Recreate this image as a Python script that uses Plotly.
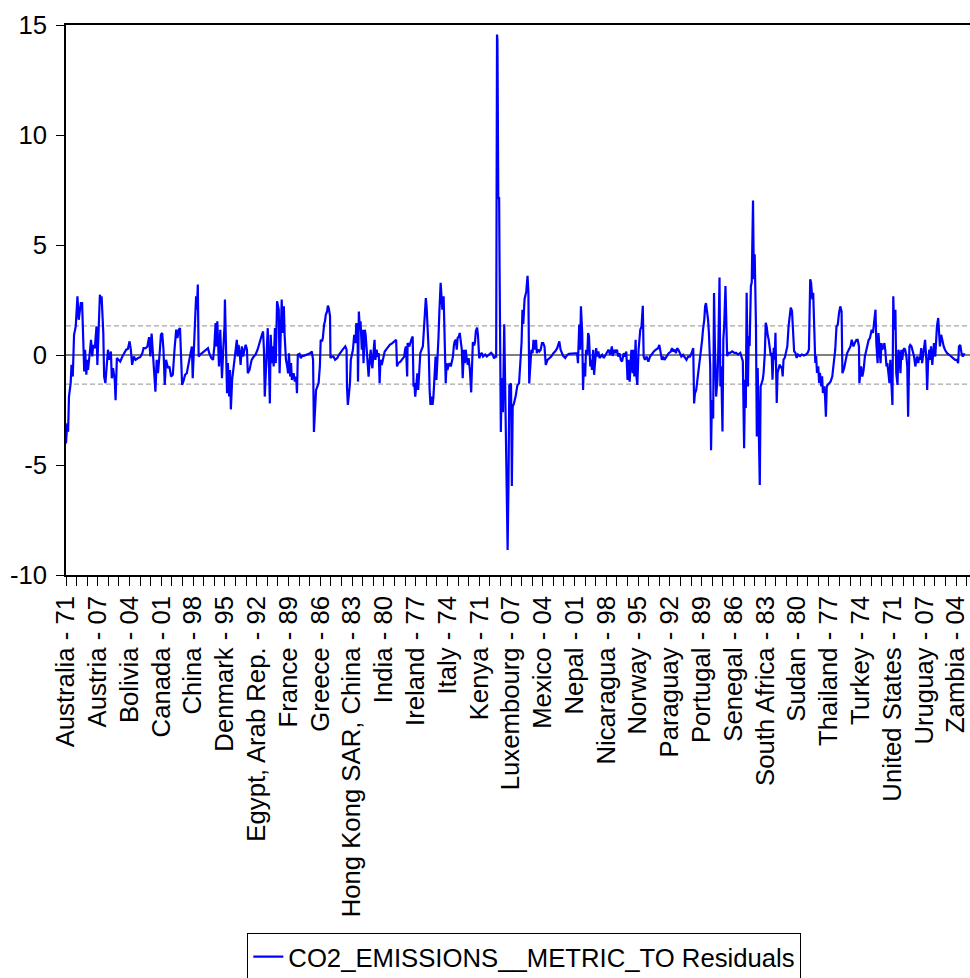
import plotly.graph_objects as go

obs = [
    0, 3, 5, 7, 11, 13, 16, 19, 23, 27, 30, 35, 38, 41, 43, 45, 48, 50, 52, 56, 59, 62, 64, 68, 72, 74, 77, 80, 82, 84,
    88, 90, 93, 95, 99, 102, 106, 108, 111, 115, 117, 120, 124, 128, 133, 138, 142, 146, 150, 153, 156, 160, 164, 170,
    175, 180, 183, 188, 192, 196, 199, 202, 205, 208, 211, 214, 217, 221, 224, 227, 230, 233, 236, 241,
    244, 248, 252, 256, 260, 263, 266, 269, 271, 274, 278, 281, 285, 289, 293, 297, 299, 301, 304, 307, 309, 311, 313,
    316, 321, 325, 330, 335, 338, 343, 347, 350, 353, 355, 357, 360, 361, 364, 366, 368, 371, 374, 375, 378, 380, 382,
    385, 387, 389, 392, 395, 398, 400, 403, 405, 407, 410, 412, 415, 418, 421, 424, 427, 429, 433, 438, 443, 447, 452,
    457, 461, 465, 467, 469, 472, 474, 476, 479, 481, 483, 486, 488, 490, 493, 495, 498,
    502, 504, 507, 509, 511, 514, 516, 519, 522, 524, 526, 529, 531, 533, 537, 540, 543, 545, 547, 551, 554, 557, 561,
    566, 571, 576, 580, 583, 585, 587, 590, 593, 596, 599, 601, 604, 606, 609, 611, 613, 616, 618, 620, 623, 624, 627,
    631, 635, 640, 644, 649, 654, 659, 662, 663, 665, 667, 670, 672, 674, 677, 680, 683, 685, 688, 689, 691, 693, 695,
    698, 700, 702, 705, 707, 709, 712, 714, 716, 719, 721, 723, 726, 728, 730, 733, 735, 738, 740, 742, 745,
    749, 752, 758, 764, 770, 776, 779, 781, 784, 789, 794, 798, 800, 802, 805, 806, 810, 813, 816, 818, 820, 822, 824,
    827, 829, 831, 834, 836, 839, 842, 844, 846, 849, 851, 853, 856, 858, 860, 863, 865, 867, 870, 872, 874, 877, 879,
    881, 884, 886, 888, 891, 893, 896, 898, 900, 903, 905, 908, 910, 913, 915, 917, 920, 922, 924, 927, 929, 931, 934,
    936, 939, 941, 943, 946, 948, 950, 953,
    956, 958, 960, 963, 965, 967, 970, 972, 975, 978, 981, 984, 989, 993, 998, 1003, 1007, 1010, 1013, 1015, 1017, 1018,
    1020, 1022, 1023, 1025, 1026, 1028, 1031, 1034, 1036, 1039, 1042, 1044, 1046, 1050, 1052, 1054, 1057, 1061, 1065,
    1069, 1072, 1075, 1077, 1079, 1082, 1086, 1089, 1091, 1093,
    1096, 1098, 1101, 1103, 1106, 1109, 1111, 1114, 1117, 1120, 1123, 1126, 1129, 1132, 1136, 1140, 1145, 1150, 1154,
    1159, 1164, 1167, 1170, 1173, 1178, 1183, 1187, 1192, 1197, 1201, 1206, 1208, 1211, 1213, 1215, 1218, 1220, 1222,
    1225, 1227, 1230, 1232, 1234, 1237, 1239, 1241, 1244, 1246, 1248, 1251, 1253, 1256, 1259, 1262, 1265, 1269, 1273,
    1276, 1280, 1284, 1288, 1290, 1294, 1297, 1300, 1303, 1306, 1309, 1312, 1316, 1319, 1322, 1325, 1327, 1330, 1332,
    1334, 1337, 1339, 1341, 1344, 1346, 1348, 1351, 1353, 1355, 1358, 1361, 1363, 1366, 1370, 1374, 1378, 1383, 1387,
    1392, 1397, 1400, 1403, 1406, 1409, 1412, 1417, 1422, 1427, 1430, 1433, 1436, 1439, 1442, 1445, 1448, 1452, 1456,
    1460, 1464, 1468, 1472, 1476, 1480, 1482, 1484, 1487, 1489, 1491, 1494, 1496, 1498, 1501, 1503, 1506, 1508, 1510,
    1513, 1515, 1517, 1520, 1522, 1524, 1527, 1529, 1531, 1534,
    1537, 1539, 1542, 1544, 1546, 1549, 1551, 1553, 1556, 1558, 1560, 1563, 1567, 1572, 1577, 1581, 1586, 1591, 1594,
    1597, 1600, 1602, 1604, 1606, 1609, 1611, 1613, 1616, 1618, 1621, 1623, 1625, 1628, 1630, 1632, 1635, 1637, 1639,
    1642, 1644, 1646, 1649, 1651, 1653, 1656, 1658, 1660, 1663, 1665, 1667, 1670, 1672, 1674, 1677, 1679, 1682, 1684,
    1686, 1689, 1691, 1693, 1696, 1699, 1702, 1705, 1708, 1710, 1713, 1715, 1718, 1721, 1724, 1727, 1732, 1736, 1741,
    1746, 1750, 1753, 1756, 1758, 1761, 1763, 1765, 1768, 1770, 1772, 1775, 1777, 1779, 1782, 1784, 1786, 1789, 1791,
    1793, 1795, 1797, 1800, 1804, 1808, 1811, 1815, 1818, 1821, 1824, 1827, 1830, 1832, 1836, 1840, 1843, 1847, 1851,
    1854, 1858, 1861, 1865, 1868, 1871, 1872, 1876, 1879, 1882, 1885, 1888, 1891, 1894, 1897, 1901, 1904, 1907, 1910,
    1912, 1915, 1917, 1919, 1922, 1924, 1926, 1929, 1931, 1933, 1936, 1938, 1940, 1943, 1945, 1947, 1950, 1952, 1954,
    1957, 1959, 1962, 1964, 1966, 1969, 1971, 1973, 1976, 1978, 1980, 1983, 1985, 1987, 1990, 1992, 1995, 1998, 2001,
    2004, 2006, 2008, 2011, 2013, 2015, 2018, 2020, 2023, 2025, 2027, 2030, 2032, 2034, 2037, 2039, 2041, 2044, 2046,
    2048, 2051, 2053, 2055, 2058, 2060, 2062, 2065, 2068, 2071, 2074, 2079, 2084, 2088, 2093, 2098, 2102, 2105, 2107,
    2110, 2113, 2116, 2120,
]

resid = [
    -4.02, -3.11, -3.49, -1.89, -1.28, -0.45, -0.98, 0.92, 1.30, 2.67, 1.60, 2.36, 2.36, 0.24, -0.75, 0.24, -0.90, -0.22,
    -0.68, 0.08, 0.69, -0.07, 0.46, 0.31, 1.30, -0.45, 0.84, 2.74, 2.36, 2.67, 1.00, -0.98, -1.28, -0.68, 0.24, -0.22,
    0.16, -1.06, -0.60, -1.13, -2.05, -0.14, -0.22, -0.30, -0.07, 0.08, 0.24, 0.27, 0.62, 0.24, -0.45, -0.07, -0.22,
    -0.14, -0.10, 0.08, 0.31, 0.31, 0.39, 0.81, -0.07, 0.97, -0.07, -0.83, -1.67, -0.22, -0.83, 0.08, 0.92, 1.00, 0.24,
    -1.36, -0.22, -0.60,
    -0.52, -0.98, -0.90, 0.24, 1.15, 0.77, 1.15, 1.22, 0.24, -1.36, -1.13, -0.90, -0.83, -0.45, 0.01, 0.39, -1.06, 0.39,
    1.30, 2.67, 2.06, 3.20, -0.07, 0.01, 0.08, 0.16, 0.24, 0.31, 0.08, -0.14, -0.22, 0.39, 1.45, 0.39, 1.53, 0.24, -0.52,
    1.15, -0.83, -1.06, 0.24, 1.30, 2.52, -0.07, -1.74, -0.37, -1.89, -0.68, -2.47, -1.13, -0.68, -0.22, 0.24, 0.69,
    -0.07, 0.46, 0.08, -0.45, 0.39, -0.07, 0.24, 0.46, 0.24, -0.83, -0.68, -0.22, -0.07, 0.01, 0.24, 0.62, 0.84, 1.07,
    0.24, -1.89, -0.22, 1.00, 1.22, -0.60, -2.20, 0.92, -0.37, 0.39, -0.52, 1.22, -0.37, 2.44,
    2.06, -0.83, 1.76, 2.52, 1.00, 2.21, 0.84, -0.22, -0.52, -0.83, 0.08, -0.98, -0.37, -1.13, -0.83, -1.21, -0.98,
    -1.74, 0.01, 0.05, -0.14, -0.04, -0.04, 0.01, 0.05, 0.08, 0.16, -0.22, -3.50, -2.50, -1.59, -1.44, -1.28, -0.52,
    0.69, 0.62, 0.77, 1.38, 1.53, 1.83, 1.98, 2.24, 2.14, 1.76, -0.14, -0.07, -0.07, -0.22, -0.14, 0.01, 0.16, 0.28,
    0.39, 0.24, -1.44, -2.27, -1.89, -1.28, -0.22, -0.07, 0.24, 0.92, 0.54, 1.45, 1.15, -1.21, 1.98, 1.30, 1.53, 0.24,
    1.15, -0.37, 1.15, 0.92, 0.39, -0.68, -0.98, -0.37, 0.24, -0.37, -0.60, 0.24, 0.69, -0.22, 0.24, -0.07, 0.08, -1.28,
    -0.22, -0.45,
    -0.07, 0.16, 0.31, 0.46, 0.54, 0.62, 0.69, -0.52, -0.37, -0.30, -0.14, -0.07, 0.24, 0.39, -0.98, 0.54, 0.39, 0.62,
    0.77, 0.84, -1.44, -1.28, -1.89, -1.28, -0.83, -1.59, -0.68, 0.08, 0.24, 0.39, 1.00, 1.83, 2.59, 2.14, 1.45, 0.08,
    -1.59, -2.27, -1.89, -2.27, -1.89, -0.68, -0.07, -1.13, -0.07, 0.84, 1.98, 3.28, 2.67, 2.06, 2.67, 1.00, -1.28,
    -0.37, -0.68, -0.45, -0.37, -0.52, -0.30, -0.07, 0.39, 0.62, 0.69, 0.24, 0.77, 0.84, 1.00, 0.77, 0.24, -1.06, 0.24,
    -0.37, 0.24, -0.22, -0.45, -0.14, -0.68,
    -1.70, 0.26, 0.59, 0.43, 0.59, 1.08, 1.24, 0.92, -0.15, 0.02, 0.10, -0.07, 0.02, -0.07, 0.02, 0.10, 0.02, -0.15,
    -0.07, -0.07, 14.57, 14.30, 7.13, 7.13, 4.10, -1.05, -3.50, -1.05, -2.60, 1.40, -1.05, -5.95, -8.86, -5.95, -1.38,
    -1.30, -5.95, -2.35, -2.20, -1.86, -1.38, -1.29, -0.23, 0.59, 2.06, 1.41, 2.55, 2.88, 3.60, 2.88, -1.29,
    0.08, 0.24, 0.08, 0.69, 0.24, 0.69, 0.08, 0.24, 0.16, 0.24, 0.54, 0.54, 0.39, -0.45, -0.22, -0.14, -0.07, 0.08,
    0.16, 0.31, 0.62, 0.24, 0.05, -0.04, -0.14, 0.01, 0.05, 0.05, 0.08, 0.05, 0.08, -0.37, 1.38, 0.24, 2.21, 1.00,
    -1.59, -0.37, -0.98, 0.24, 0.01, 1.00, 0.84, -0.52, -0.22, -0.68, 0.24, -0.90, -0.22, 0.31, -0.07, 0.16, -0.14,
    -0.07, 0.01, -0.14, 0.01,
    0.08, 0.24, 0.01, 0.39, -0.04, 0.24, 0.08, 0.24, -0.07, 0.08, -0.22, -0.30, 0.08, -0.07, 0.16, -1.13, -0.22, -1.21,
    -0.45, 0.24, -0.83, 0.24, -0.98, 0.69, -0.98, -1.36, 0.24, 1.00, 1.15, 1.30, 2.24, -0.07, -0.22, -0.07, -0.30,
    -0.07, 0.08, 0.16, 0.24, 0.31, 0.46, 0.01, -0.22, -0.07, -0.22, -0.07, 0.08, 0.16, 0.31, 0.16, 0.24, 0.08, 0.31,
    0.24, 0.08, -0.07, 0.01, -0.14, -0.22, -0.07, -0.07, 0.08, 0.31, -2.20, -1.74, -1.59, -1.28, -0.83, -0.52, -0.07,
    0.24, 0.69, 1.15, 1.60, 2.21, 2.36, 1.91, 1.60, 1.00, -0.52, -4.33, -2.05, -2.89, 2.82, 0.54, -1.89,
    -1.12, 0.10, 3.52, -1.43, -0.51, -3.48, 0.71, 1.32, 3.14, 1.62, -0.05, 0.10, 0.10, 0.17, 0.10, 0.10, 0.02, 0.10,
    -0.05, -0.28, -4.24, -1.12, -2.41, 2.83, -1.43, 0.86, 0.40, 3.14, 3.29, 7.02, 3.44, 4.58, 1.32, -3.70, -0.59, -3.70,
    -5.91, -1.43, -1.27, -1.12, -0.81, 0.10, 1.47, 1.32, 0.86, 0.71, 0.40, -0.05, 0.10, -1.12, 0.33, -0.21, 1.01, -2.18,
    -0.81, -0.51, -0.43, -0.59, -0.51, -0.97, -0.21, -0.13, 0.10, 0.40, 1.32, 1.77, 2.15, 2.00, 1.01, 0.17, 0.10, -0.13,
    0.02, -0.05, 0.02, -0.02, 0.02, 0.10, 0.25, 3.44, 3.29, 2.53, 2.83, 1.32, -0.36, -0.05, -0.81, -0.51, -1.27, -0.81,
    -1.43, -0.97, -1.73, -1.43, -1.88,
    -2.81, -1.44, -1.36, -1.28, -1.21, -0.98, -0.37, 0.24, 1.30, 1.38, 1.91, 2.21, 1.98, -0.83, -0.60, -0.22, 0.08,
    0.24, 0.39, 0.69, 0.39, 0.54, 0.69, 0.69, 0.39, -1.28, -0.52, -0.98, -0.68, -0.07, 0.16, 0.39, 0.69, 0.77, 1.15,
    1.00, 1.53, 2.06, 0.54, -0.37, 1.00, 0.24, -0.37, 0.54, 0.24, 0.39, 0.54, 0.24, -0.52, -0.37, -0.83, -1.28, -0.22,
    -0.98, -2.27, 2.67, 1.15, 2.06, -0.83, -1.36, 0.24, 0.08, -0.83, 0.24, -0.22, 0.24, 0.31, 0.24, -0.07, -0.52,
    -2.81, 0.39, 0.46, 0.39, 0.16, -0.07, -0.52, -0.14, -0.07, -0.37, -0.07, -0.22, 0.31, -0.37, 0.08, 0.61, 0.69,
    -0.22, -1.59, -0.37, 0.24, -0.22, 0.39, -0.45, 0.24, 0.54, -0.07, 0.69, 1.30, 1.68, 1.15, 0.39, 0.92, 0.61, 0.39,
    0.24, 0.08, 0.01, -0.07, -0.14, -0.22, -0.22, -0.37, 0.39, 0.46, 0.08, -0.07, 0.08,
]

# Category tick labels (every 75th observation; minor ticks every 25th)
country_labels = [
    "Australia - 71", "Austria - 07", "Bolivia - 04", "Canada - 01", "China - 98", "Denmark - 95",
    "Egypt, Arab Rep. - 92", "France - 89", "Greece - 86", "Hong Kong SAR, China - 83", "India - 80",
    "Ireland - 77", "Italy - 74", "Kenya - 71", "Luxembourg - 07", "Mexico - 04", "Nepal - 01",
    "Nicaragua - 98", "Norway - 95", "Paraguay - 92", "Portugal - 89", "Senegal - 86", "South Africa - 83",
    "Sudan - 80", "Thailand - 77", "Turkey - 74", "United States - 71", "Uruguay - 07", "Zambia - 04",
]
label_every = 75
tick_every = 25
visible_obs = 2133
y_tick_values = [-10, -5, 0, 5, 10, 15]
y_tick_labels = ["-10", "-5", "0", "5", "10", "15"]
std_error = 1.32
series_name = "CO2_EMISSIONS__METRIC_TO Residuals"

tickvals = list(range(0, visible_obs, tick_every))
per = label_every // tick_every
ticktext = []
for i, v in enumerate(tickvals):
    if i % per == 0 and i // per < len(country_labels):
        ticktext.append(country_labels[i // per])
    else:
        ticktext.append("")

FONT = "Arial, Liberation Sans, sans-serif"
FS = 25.7

fig = go.Figure()
fig.add_trace(go.Scatter(
    x=obs, y=resid, mode="lines", name=series_name,
    line=dict(color="#0000FF", width=2.2),
))

# reference lines: zero and +/- standard error
fig.add_hline(y=0, line=dict(color="black", width=1.2), layer="below")
for s in (std_error, -std_error):
    fig.add_hline(y=s, line=dict(color="#A8A8A8", width=1.3, dash="5px,3px"), layer="below")

fig.update_layout(
    width=970, height=978,
    margin=dict(l=66, r=0, t=25, b=403, autoexpand=False),
    paper_bgcolor="white", plot_bgcolor="white",
    font=dict(family=FONT, size=FS, color="black"),
    showlegend=True,
    legend=dict(
        orientation="h", x=0.507, xanchor="center", y=-0.650, yanchor="top",
        bordercolor="black", borderwidth=1, font=dict(size=FS, family=FONT),
        bgcolor="white",
    ),
)
fig.update_xaxes(
    range=[0, visible_obs], tickmode="array", tickvals=tickvals, ticktext=ticktext,
    tickangle=-90, ticks="outside", ticklen=9, tickwidth=1, tickcolor="black",
    showline=True, linecolor="black", linewidth=1.5, mirror=True,
    showgrid=False, zeroline=False, tickfont=dict(size=FS, family=FONT),
    ticklabeloverflow="allow", ticklabelstandoff=0, automargin=False,
)
fig.update_yaxes(
    range=[-10, 15], tickmode="array", tickvals=y_tick_values, ticktext=y_tick_labels,
    ticks="outside", ticklen=8, tickwidth=1, tickcolor="black",
    showline=True, linecolor="black", linewidth=1.5, mirror=False,
    showgrid=False, zeroline=False, tickfont=dict(size=FS, family=FONT),
    ticklabelstandoff=4, automargin=False,
)

fig.write_html("out.html")
